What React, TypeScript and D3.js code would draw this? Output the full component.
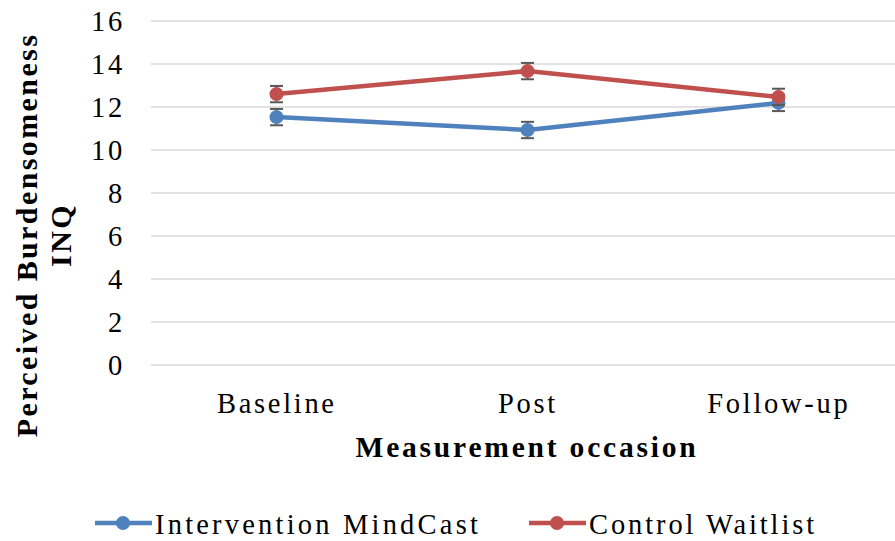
import React from "react";
import * as d3 from "d3";

const categories = ["Baseline", "Post", "Follow-up"];
const interventionValues = [11.53, 10.93, 12.19];
const controlValues = [12.6, 13.67, 12.47];
const interventionErr = [0.38, 0.38, 0.38];
const controlErr = [0.38, 0.38, 0.38];
const yTicks = [0, 2, 4, 6, 8, 10, 12, 14, 16];
const seriesNames = ["Intervention MindCast", "Control Waitlist"];

const W = 895;
const H = 541;
const FONT = "'Liberation Serif', 'Times New Roman', serif";
const BLUE = "#4f81bd";
const RED = "#c0504d";
const FS = 28.5;
const LS = 2.7;

export default function App() {
  const x = d3.scaleBand<string>().domain(categories).range([151, 904]);
  const y = d3.scaleLinear().domain([0, 16]).range([365, 21]);
  const cx = (c: string) => (x(c) as number) + x.bandwidth() / 2;
  const line = d3
    .line<number>()
    .x((_, i) => cx(categories[i]))
    .y((d) => y(d));

  const series = [
    { name: seriesNames[0], values: interventionValues, err: interventionErr, color: BLUE },
    { name: seriesNames[1], values: controlValues, err: controlErr, color: RED },
  ];

  const textProps = { fontFamily: FONT, fontSize: FS, letterSpacing: LS, fill: "#000" };
  const boldProps = { fontFamily: FONT, fontSize: 29.5, letterSpacing: 2.8, fill: "#000", fontWeight: "bold" as const };

  return (
    <svg width={W} height={H} style={{ position: "absolute", left: 0, top: 0, background: "#fff" }}>
      {yTicks.map((t) => (
        <line key={t} x1={151} x2={W} y1={y(t)} y2={y(t)} stroke="#d9d9d9" strokeWidth={1.5} />
      ))}
      {yTicks.map((t) => (
        <text key={"l" + t} x={125} y={y(t) + 10} textAnchor="end" {...textProps}>
          {t}
        </text>
      ))}
      {categories.map((c) => (
        <text key={c} x={cx(c) + LS / 2 - 1} y={413} textAnchor="middle" {...textProps}>
          {c}
        </text>
      ))}
      <text x={527} y={457} textAnchor="middle" {...boldProps}>
        Measurement occasion
      </text>
      <g transform="translate(37,235) rotate(-90)">
        <text x={0} y={0} textAnchor="middle" {...boldProps} fontSize={30} letterSpacing={2.4}>
          Perceived Burdensomeness
        </text>
        <text x={0} y={34} textAnchor="middle" {...boldProps} fontSize={30} letterSpacing={2.4}>
          INQ
        </text>
      </g>
      {series.map((s) => (
        <path key={s.name} d={line(s.values) || ""} fill="none" stroke={s.color} strokeWidth={4.5} strokeLinejoin="round" />
      ))}
      {series.map((s) => (
        <g key={s.name + "m"}>
          {s.values.map((v, i) => {
            const px = cx(categories[i]);
            return (
              <g key={i}>
                <line x1={px} x2={px} y1={y(v - s.err[i])} y2={y(v + s.err[i])} stroke="#595959" strokeWidth={1.5} />
                <line x1={px - 6.5} x2={px + 6.5} y1={y(v - s.err[i])} y2={y(v - s.err[i])} stroke="#595959" strokeWidth={2} />
                <line x1={px - 6.5} x2={px + 6.5} y1={y(v + s.err[i])} y2={y(v + s.err[i])} stroke="#595959" strokeWidth={2} />
                <circle cx={px} cy={y(v)} r={7} fill={s.color} />
              </g>
            );
          })}
        </g>
      ))}
      {series.map((s, i) => {
        const lx = i === 0 ? 95 : 529;
        return (
          <g key={s.name + "leg"}>
            <line x1={lx} x2={lx + 57} y1={523} y2={523} stroke={s.color} strokeWidth={4.5} />
            <circle cx={lx + 28} cy={523} r={7} fill={s.color} />
            <text x={lx + 60} y={534} {...textProps} letterSpacing={i === 0 ? 3.2 : 2.9}>
              {s.name}
            </text>
          </g>
        );
      })}
    </svg>
  );
}
